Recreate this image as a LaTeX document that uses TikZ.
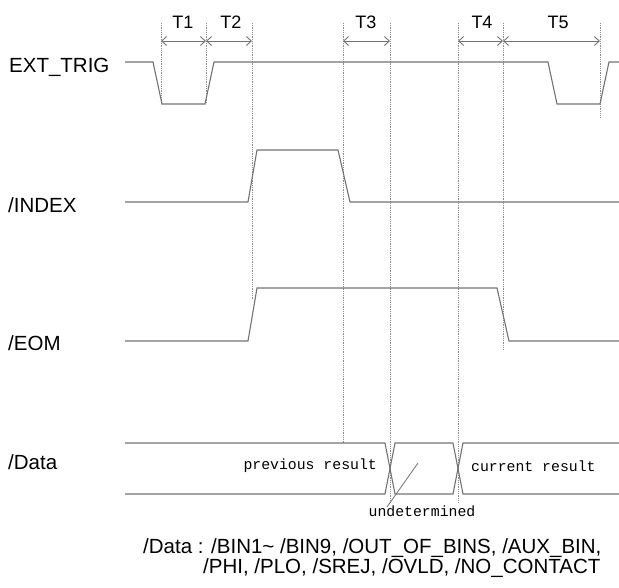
\documentclass[tikz,border=0pt]{standalone}
\usepackage{fontspec}
\setmainfont{Liberation Sans}
\newfontfamily\monof{Liberation Mono}
\usetikzlibrary{arrows.meta}
\begin{document}
\begin{tikzpicture}[x=1pt,y=-1pt,
  wave/.style={draw=black!55, line width=1.1pt, line join=miter},
  guide/.style={draw=black!45, densely dotted, line width=0.8pt},
  dimarrow/.style={draw=black!55, line width=0.9pt, {Straight Barb[length=5pt,width=9pt]}-{Straight Barb[length=5pt,width=9pt]}},
  sig/.style={anchor=base west, font=\fontsize{20.5}{22}\selectfont, inner sep=0pt},
  tlab/.style={anchor=base, font=\fontsize{18}{20}\selectfont, inner sep=0pt},
  legend/.style={anchor=base west, font=\fontsize{20.5}{22}\selectfont, inner sep=0pt},
  mono/.style={font=\monof\fontsize{14.8}{16}\selectfont, inner sep=0pt}]
\useasboundingbox (0,0) rectangle (619,587);

% guide end points
\coordinate (atop) at (161,23); \coordinate (abot) at (161,104); \coordinate (aarr) at (161,41);
\coordinate (btop) at (206,23); \coordinate (bbot) at (206,104); \coordinate (barr) at (206,41);
\coordinate (ctop) at (252,23); \coordinate (cbot) at (252,300); \coordinate (carr) at (252,41);
\coordinate (dtop) at (343,23); \coordinate (dbot) at (343,443); \coordinate (darr) at (343,41);
\coordinate (etop) at (390,23); \coordinate (ebot) at (390,502); \coordinate (earr) at (390,41);
\coordinate (ftop) at (458,23); \coordinate (fbot) at (458,502); \coordinate (farr) at (458,41);
\coordinate (gtop) at (503,23); \coordinate (gbot) at (503,349); \coordinate (garr) at (503,41);
\coordinate (htop) at (600,23); \coordinate (hbot) at (600,118); \coordinate (harr) at (600,41);
\foreach \n in {a,b,c,d,e,f,g,h} {\draw[guide] (\n top) -- (\n bot);}

% dimension arrows
\draw[dimarrow] (aarr) -- (barr);
\draw[dimarrow] (barr) -- (carr);
\draw[dimarrow] (darr) -- (earr);
\draw[dimarrow] (farr) -- (garr);
\draw[dimarrow] (garr) -- (harr);
\node[tlab] (t1) at (183,28) {T1};
\node[tlab] (t2) at (231,28) {T2};
\node[tlab] (t3) at (366,28) {T3};
\node[tlab] (t4) at (482,28) {T4};
\node[tlab] (t5) at (558,28) {T5};

% signal names
\node[sig] (ext) at (9,72.5) {EXT\_TRIG};
\node[sig] (index) at (8,212.5) {/INDEX};
\node[sig] (eom) at (8,350.5) {/EOM};
\node[sig] (data) at (8,469.5) {/Data};

% EXT_TRIG
\draw[wave] (125,62) -- (153,62) -- (162,104) -- (205,104) -- (214,62) -- (548,62) -- (557,104) -- (600,104) -- (609,62) -- (619,62);
% /INDEX
\draw[wave] (125,202) -- (248,202) -- (257,150) -- (338,150) -- (350,202) -- (619,202);
% /EOM
\draw[wave] (125,341) -- (248,341) -- (257,288) -- (497,288) -- (509,341) -- (619,341);
% /Data
\draw[wave] (125,443) -- (385,443) -- (395,494) -- (453,494) -- (463,443) -- (619,443);
\draw[wave] (125,494) -- (385,494) -- (395,443) -- (453,443) -- (463,494) -- (619,494);

\node[mono, anchor=east] (prev) at (377,466) {previous result};
\node[mono, anchor=west] (curr) at (471,466) {current result};
\node[mono] (undet) at (422,511) {undetermined};
\coordinate (leadtop) at (418,463);
\coordinate (leadbot) at (387,507);
\draw[draw=black!55, line width=0.8pt] (leadbot) -- (leadtop);

% legend
\node[legend] (lg1) at (143,553) {/Data\ :};
\node[legend] (lg2) at (211,553) {/BIN1\textasciitilde\ /BIN9, /OUT\_OF\_BINS, /AUX\_BIN,};
\node[legend] (lg3) at (203,573) {/PHI, /PLO, /SREJ, /OVLD, /NO\_CONTACT};
\end{tikzpicture}
\end{document}
